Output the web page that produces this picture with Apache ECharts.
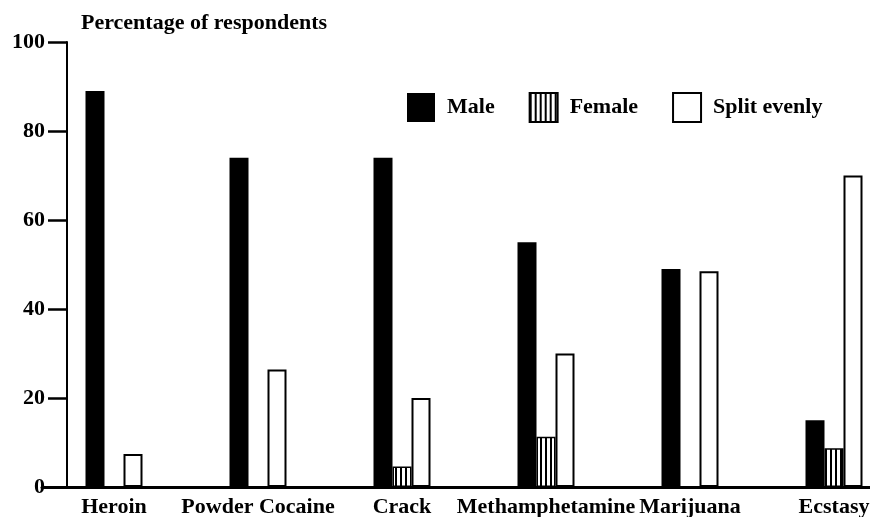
<!DOCTYPE html>
<html>
<head>
<meta charset="utf-8">
<script src="https://cdn.jsdelivr.net/npm/echarts@6/dist/echarts.min.js"></script>
<style>
  html, body { margin: 0; padding: 0; background: #fff; }
  #chart { width: 870px; height: 517px; }
</style>
</head>
<body>
<div id="chart"></div>
<script>
const CATEGORIES = ['Heroin', 'Powder Cocaine', 'Crack', 'Methamphetamine', 'Marijuana', 'Ecstasy'];
const MALE = [89, 74, 74, 55, 49, 15];
const FEMALE = [null, null, 4.6, 11.3, null, 8.7];
const SPLIT = [7.4, 26.4, 20, 30, 48.5, 70];
const Y_TICKS = [0, 20, 40, 60, 80, 100];

const FONT = '"Liberation Serif", "Times New Roman", serif';

// vertical hatch used for the Female bars
const makeStripes = () => {
  const c = document.createElement('canvas');
  c.width = 5;
  c.height = 8;
  const ctx = c.getContext('2d');
  ctx.fillStyle = '#fff';
  ctx.fillRect(0, 0, 5, 8);
  ctx.fillStyle = '#000';
  ctx.fillRect(0, 0, 2, 8);
  return c;
};

const chart = echarts.init(document.getElementById('chart'), null, { renderer: 'canvas' });

const option = {
  backgroundColor: '#fff',
  animation: false,
  title: {
    text: 'Percentage of respondents',
    left: 76,
    top: 7,
    textStyle: { fontFamily: FONT, fontSize: 22, fontWeight: 'bold', color: '#000' },
  },
  legend: {
    left: 407,
    top: 92,
    padding: 0,
    itemWidth: 28,
    itemHeight: 29,
    itemGap: 34,
    icon: 'rect',
    textStyle: { fontFamily: FONT, fontSize: 22, fontWeight: 'bold', color: '#000', padding: [0, 0, 0, 7] },
    data: ['Male', 'Female', 'Split evenly'],
  },
  grid: { left: 42, right: -36, top: 42, bottom: 30, outerBoundsMode: 'none' },
  xAxis: {
    type: 'category',
    data: CATEGORIES,
    axisLine: { lineStyle: { color: '#000', width: 3 } },
    axisTick: { show: false },
    axisLabel: { fontFamily: FONT, fontSize: 22, fontWeight: 'bold', color: '#000', margin: 9, interval: 0 },
  },
  yAxis: {
    type: 'value',
    min: Y_TICKS[0],
    max: Y_TICKS[Y_TICKS.length - 1],
    interval: 20,
    offset: -25,
    axisLine: { show: true, lineStyle: { color: '#000', width: 2 } },
    axisTick: { show: true, length: 19, lineStyle: { color: '#000', width: 2.5 } },
    axisLabel: { fontFamily: FONT, fontSize: 22, fontWeight: 'bold', color: '#000', margin: 22 },
    splitLine: { show: false },
  },
  series: [
    {
      name: 'Male',
      type: 'bar',
      data: MALE,
      barWidth: 19,
      barGap: '0%',
      itemStyle: { color: '#000' },
    },
    {
      name: 'Female',
      type: 'bar',
      data: FEMALE,
      barWidth: 19,
      barGap: '0%',
      itemStyle: {
        color: { image: makeStripes(), repeat: 'repeat' },
        borderColor: '#000',
        borderWidth: 1.5,
      },
    },
    {
      name: 'Split evenly',
      type: 'bar',
      data: SPLIT,
      barWidth: 19,
      barGap: '0%',
      itemStyle: { color: '#fff', borderColor: '#000', borderWidth: 2 },
    },
  ],
};

chart.setOption(option);
</script>
</body>
</html>
